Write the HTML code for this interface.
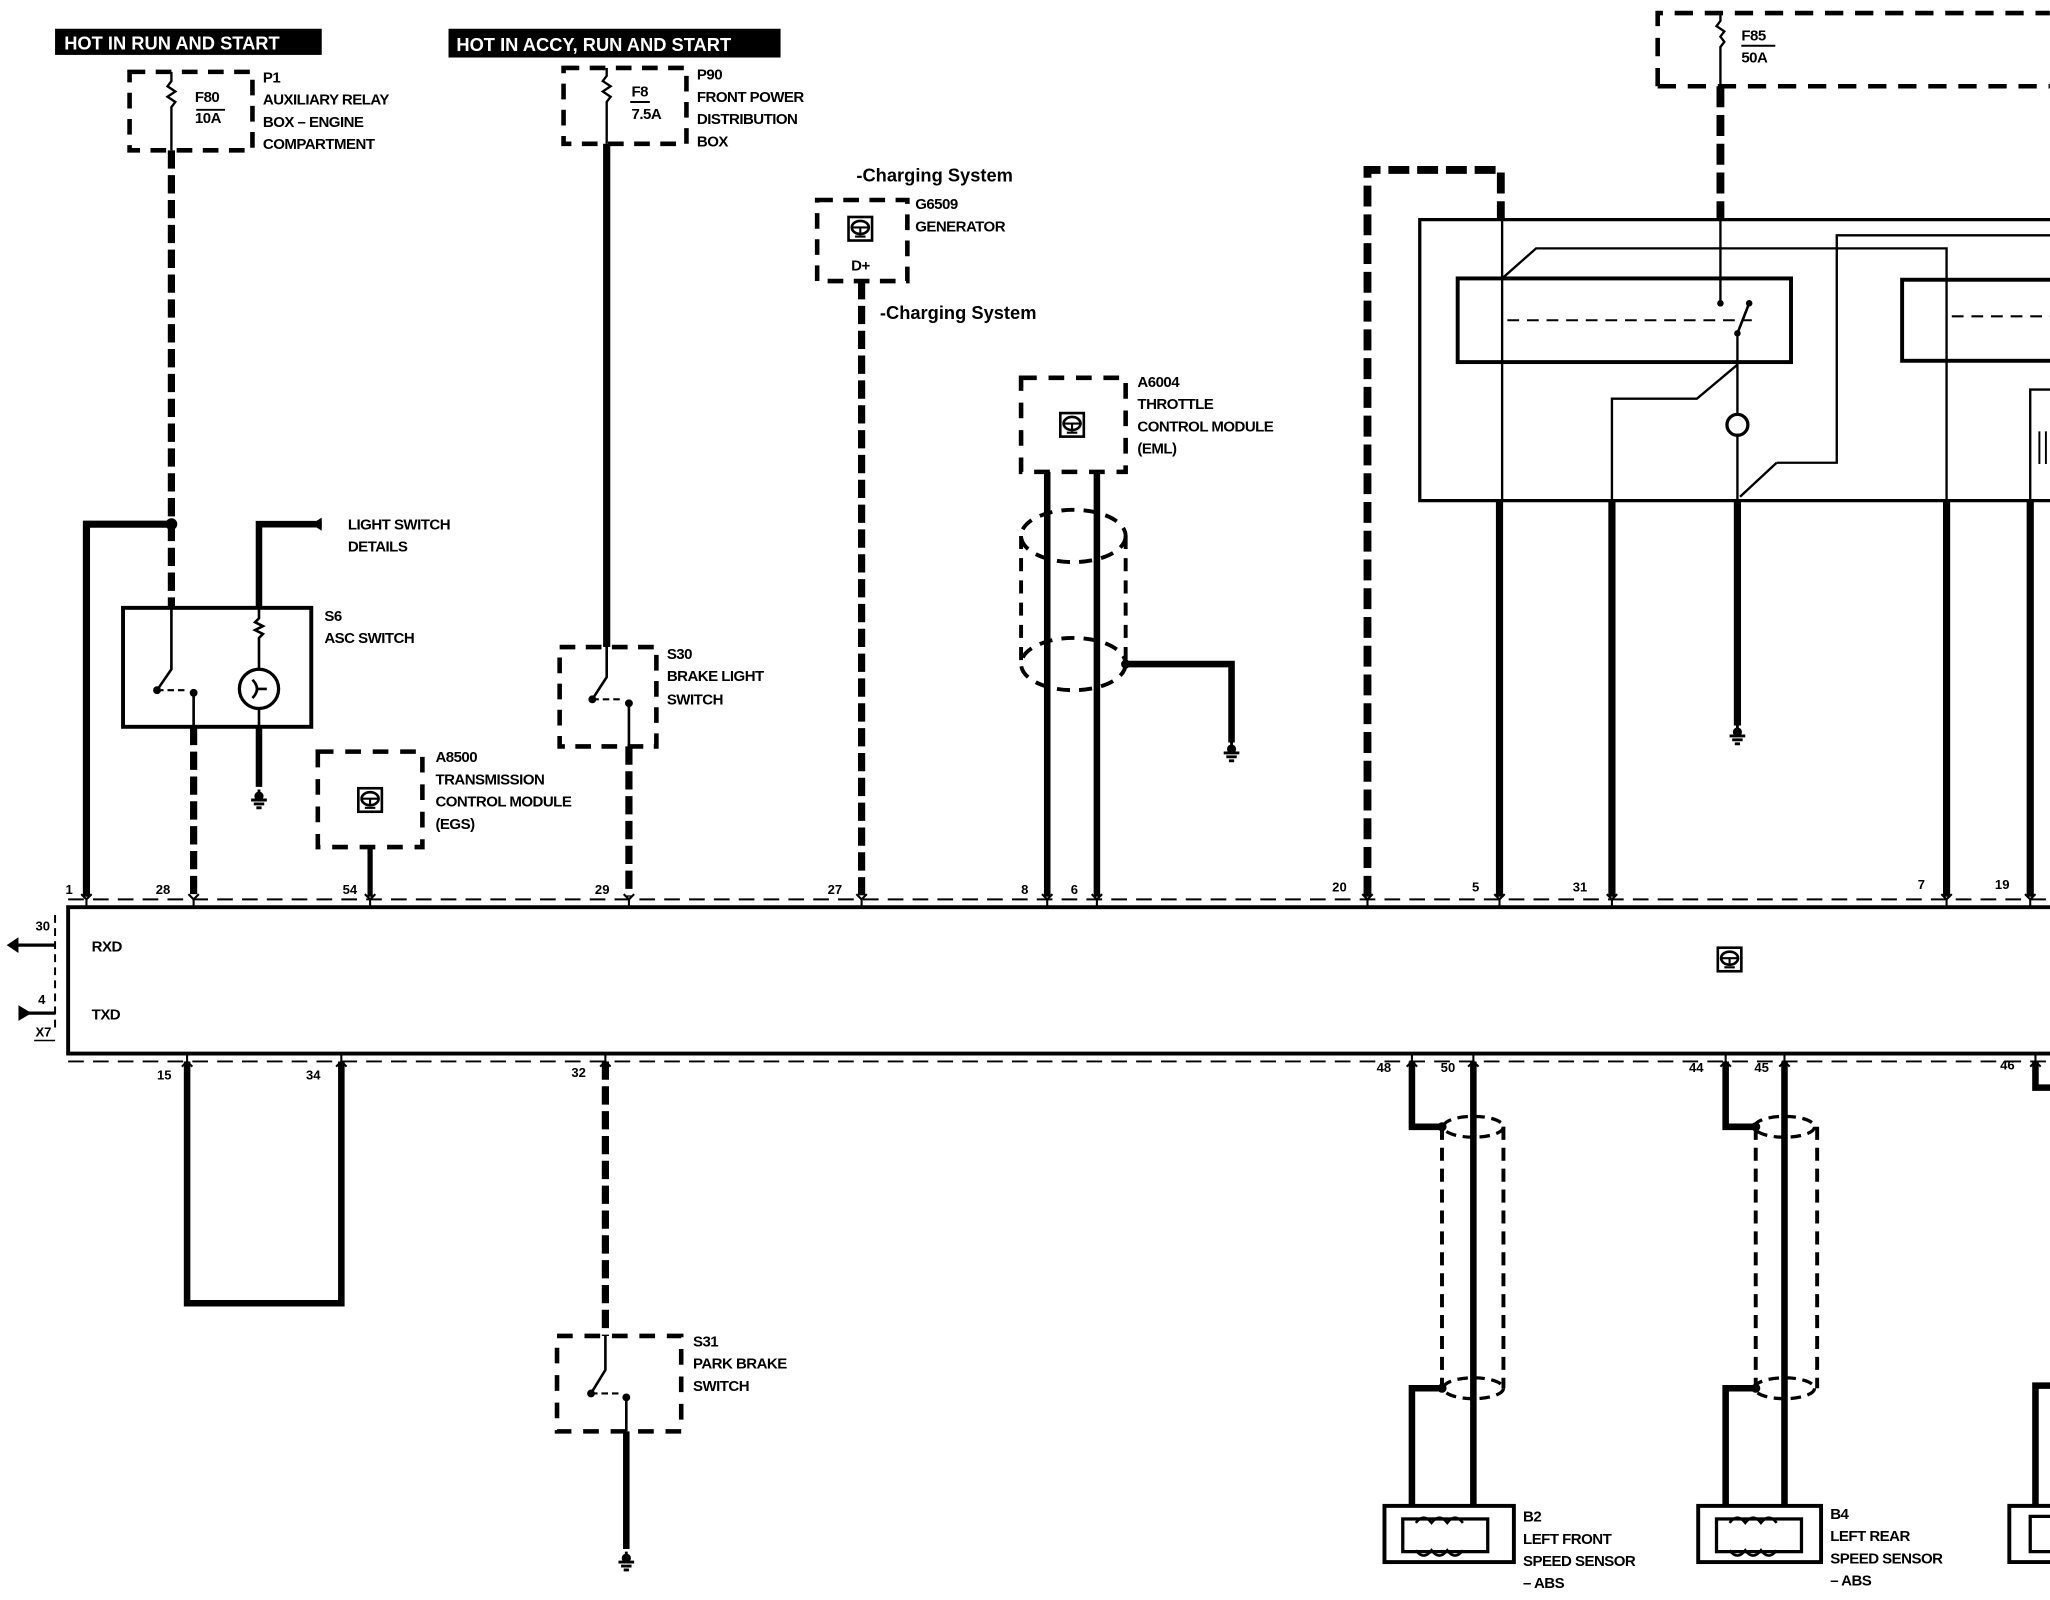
<!DOCTYPE html>
<html><head><meta charset="utf-8"><style>
html,body{margin:0;padding:0;background:#fff;}
svg{display:block;}
text{font-family:"Liberation Sans",sans-serif;font-weight:bold;fill:#000;}
.s{font-size:11.5px;letter-spacing:-0.4px;}
</style></head><body>
<svg width="2050" height="1600" viewBox="0 0 1568 1224" xmlns="http://www.w3.org/2000/svg">
<defs>
<g id="ic"><rect x="-9" y="-9" width="18" height="18" fill="#fff" stroke="#000" stroke-width="2"/><ellipse cx="0" cy="-1" rx="6.5" ry="5" fill="none" stroke="#000" stroke-width="2"/><path d="M-6,-1 H6 M0,-1 V5 M-4,6 H4" stroke="#000" stroke-width="1.6"/></g>
<g id="gnd"><path d="M0,-8 V0 M-6,0 H6 M-4,3 H4 M-2,6 H2" stroke="#000" stroke-width="2.2" fill="none"/><circle cx="0" cy="-3" r="3.5"/></g>
<g id="pin"><path d="M-4,-4 L0,0 L4,-4 M0,0 V6" stroke="#000" stroke-width="1.6" fill="none"/></g>
<g id="pinb"><path d="M-4,4 L0,0 L4,4 M0,0 V-6" stroke="#000" stroke-width="1.6" fill="none"/></g>
</defs>
<rect width="1568" height="1224" fill="#fff"/>
<g fill="none" stroke="#000">
<!-- headers -->
</g>
<rect x="42" y="22" width="204" height="20" fill="#000"/>
<text x="49" y="38" fill="#fff" style="fill:#fff;font-size:14px">HOT IN RUN AND START</text>
<rect x="343" y="22" width="254" height="22" fill="#000"/>
<text x="349" y="39" style="fill:#fff;font-size:14px">HOT IN ACCY, RUN AND START</text>

<g fill="none" stroke="#000">
<!-- P1 fuse box -->
<rect x="99" y="55" width="94" height="60" stroke-width="3.5" stroke-dasharray="12 8"/>
<path d="M131,55 V62 l-3,4 l6,4 l-6,4 l6,4 l-3,4 V115" stroke-width="1.8"/>
<path d="M150,84 H172" stroke-width="1.5"/>
<!-- wire P1 -->
<path d="M131,115 V465" stroke-width="5.5" stroke-dasharray="14 5"/>
<path d="M131,401 H66 V686" stroke-width="5.5"/>
<!-- S6 -->
<rect x="94" y="465" width="144" height="91" stroke-width="3"/>
<path d="M131,465 V512 L120,528 M148,530 V556" stroke-width="2"/>
<path d="M120,528 H143" stroke-width="1.6" stroke-dasharray="5 3"/>
<path d="M246,401 H198 V465" stroke-width="5"/>
<path d="M198,465 V473 l-3,3 l6,3 l-6,3 l6,3 l-3,3 V512 M198,542 V556" stroke-width="2"/>
<circle cx="198" cy="527" r="15" stroke-width="2.5"/>
<path d="M193,520 Q200,527 193,534 M196,527 H204" stroke-width="2"/>
<path d="M198,556 V602" stroke-width="5"/>
<path d="M148,556 V686" stroke-width="5.5" stroke-dasharray="14 5"/>
<!-- A8500 -->
<rect x="243" y="575" width="80" height="73" stroke-width="3.5" stroke-dasharray="12 9"/>
<path d="M283,648 V686" stroke-width="4"/>
<!-- F8 box -->
<rect x="431" y="52" width="94" height="58" stroke-width="3.5" stroke-dasharray="12 8"/>
<path d="M464,52 V58 l-3,4 l6,4 l-6,4 l6,4 l-3,4 V110" stroke-width="1.8"/>
<path d="M482,78 H497" stroke-width="1.5"/>
<path d="M464,110 V495" stroke-width="5.5"/>
<!-- S30 -->
<rect x="428" y="495" width="74" height="76" stroke-width="3.5" stroke-dasharray="12 8"/>
<path d="M464,495 V518 L453,535 M481,538 V571" stroke-width="2"/>
<path d="M453,535 H475" stroke-width="1.6" stroke-dasharray="5 3"/>
<path d="M481,571 V686" stroke-width="5.5" stroke-dasharray="14 5"/>
<!-- G6509 -->
<rect x="625" y="153" width="69" height="62" stroke-width="3.5" stroke-dasharray="12 8"/>
<path d="M659,215 V686" stroke-width="5.5" stroke-dasharray="14 5"/>
<!-- A6004 -->
<rect x="781" y="289" width="80" height="72" stroke-width="3.5" stroke-dasharray="12 9"/>
<path d="M801,361 V686 M839,361 V686" stroke-width="5"/>
<ellipse cx="821" cy="410" rx="40" ry="20" stroke-width="3" stroke-dasharray="10 7"/>
<ellipse cx="821" cy="508" rx="40" ry="20" stroke-width="3" stroke-dasharray="10 7"/>
<path d="M781,410 V508 M861,410 V508" stroke-width="3" stroke-dasharray="10 7"/>
<path d="M861,508 H942 V568" stroke-width="5"/>
<!-- pin20 dashed -->
<path d="M1046,686 V130 H1148 V168" stroke-width="6" stroke-dasharray="16 6"/>
<!-- F85 -->
<path d="M1268,66 V10 H1568 M1268,66 H1568" stroke-width="3.5" stroke-dasharray="14 9"/>
<path d="M1316,10 V16 l-3,4 l6,4 l-3,4 l3,4 l-3,4 V66" stroke-width="1.8"/>
<path d="M1332,35 H1358" stroke-width="1.5"/>
<path d="M1316,66 V168" stroke-width="6" stroke-dasharray="16 6"/>
<!-- big box -->
<path d="M1570,168 H1086 V383 H1570" stroke-width="2.5"/>
<rect x="1115" y="213" width="255" height="64" stroke-width="3"/>
<path d="M1149,168 V383 M1149,213 L1175,190 H1489 V383 M1405,383 M1359,354 H1405 V180 H1570 M1359,354 L1331,380 M1233,383 V305 H1298 L1329,279" stroke-width="1.8"/>
<path d="M1153,245 H1340" stroke-width="1.6" stroke-dasharray="9 6"/>
<path d="M1316,168 V232" stroke-width="1.8"/>
<path d="M1329,255 L1338,232" stroke-width="2"/>
<path d="M1329,255 V316 M1329,333 V383" stroke-width="1.8"/>
<circle cx="1329" cy="325" r="8" stroke-width="2.5"/>
<rect x="1455" y="214" width="120" height="62" stroke-width="3"/>
<path d="M1493,242 H1570" stroke-width="1.6" stroke-dasharray="9 6"/>
<path d="M1570,298 H1553 V383" stroke-width="1.8"/>
<path d="M1560,330 V355 M1565,330 V355" stroke-width="1.5"/>
<path d="M1147,383 V686 M1233,383 V686 M1329,383 V555 M1489,383 V686 M1553,383 V686" stroke-width="5.5"/>
<!-- module -->
<path d="M1570,694 H52 V806 H1570" stroke-width="3"/>
<path d="M52,688 H1570 M52,812 H1570" stroke-width="1.5" stroke-dasharray="12 7"/>
<path d="M42,700 V790" stroke-width="1.5" stroke-dasharray="6 4"/>
<path d="M42,723 H14 M42,775 H16" stroke-width="2.5"/>
<!-- bottom -->
<path d="M143,812 V997 H261 V812" stroke-width="5"/>
<path d="M463,812 V1022" stroke-width="5.5" stroke-dasharray="14 5"/>
<rect x="426" y="1022" width="95" height="73" stroke-width="3.5" stroke-dasharray="12 9"/>
<path d="M463,1022 V1048 L452,1066 M479,1069 V1095" stroke-width="2"/>
<path d="M452,1066 H473" stroke-width="1.6" stroke-dasharray="5 3"/>
<path d="M479,1095 V1185" stroke-width="5"/>
<!-- B2 -->
<path d="M1127,812 V1152 M1080,812 V862 H1103 M1103,1062 H1080 V1152" stroke-width="5"/>
<path d="M1103,862 V1062 M1150,862 V1062" stroke-width="3" stroke-dasharray="10 6"/>
<ellipse cx="1127" cy="862" rx="23" ry="8" stroke-width="2.5" stroke-dasharray="8 5"/>
<ellipse cx="1127" cy="1062" rx="23" ry="8" stroke-width="2.5" stroke-dasharray="8 5"/>
<rect x="1059" y="1152" width="99" height="43" stroke-width="3"/>
<rect x="1073" y="1162" width="65" height="25" stroke-width="2.5"/>
<path d="M1083,1165 q6,-8 12,0 q6,-8 12,0 q6,-8 12,0 M1083,1186 q6,8 12,0 q6,8 12,0 q6,8 12,0" stroke-width="2"/>
<!-- B4 -->
<path d="M1365,812 V1152 M1320,812 V862 H1343 M1343,1062 H1320 V1152" stroke-width="5"/>
<path d="M1343,862 V1062 M1390,862 V1062" stroke-width="3" stroke-dasharray="10 6"/>
<ellipse cx="1365" cy="862" rx="23" ry="8" stroke-width="2.5" stroke-dasharray="8 5"/>
<ellipse cx="1365" cy="1062" rx="23" ry="8" stroke-width="2.5" stroke-dasharray="8 5"/>
<rect x="1299" y="1152" width="94" height="43" stroke-width="3"/>
<rect x="1313" y="1162" width="65" height="25" stroke-width="2.5"/>
<path d="M1323,1165 q6,-8 12,0 q6,-8 12,0 q6,-8 12,0 M1323,1186 q6,8 12,0 q6,8 12,0 q6,8 12,0" stroke-width="2"/>
<!-- right partial -->
<path d="M1557,812 V832 H1570 M1570,1060 H1557 V1152" stroke-width="5"/>
<path d="M1570,1152 H1537 V1195 H1570" stroke-width="3"/>
<path d="M1570,1160 H1553 V1187 H1570" stroke-width="2.5"/>
</g>
<!-- dots & arrows -->
<circle cx="131" cy="401" r="4.5"/>
<path d="M246,396 L238,401 L246,406 Z"/>
<polygon points="5,723 14,717 14,729"/>
<polygon points="24,775 14,769 14,781"/>
<circle cx="861" cy="508" r="3.5"/>
<circle cx="1103" cy="862" r="3.5"/><circle cx="1103" cy="1062" r="3.5"/>
<circle cx="1343" cy="862" r="3.5"/><circle cx="1343" cy="1062" r="3.5"/>
<circle cx="120" cy="528" r="3"/><circle cx="148" cy="530" r="3"/>
<circle cx="453" cy="535" r="3"/><circle cx="481" cy="538" r="3"/>
<circle cx="452" cy="1066" r="3"/><circle cx="479" cy="1069" r="3"/>
<circle cx="1316" cy="232" r="2.5"/><circle cx="1338" cy="232" r="2.5"/><circle cx="1329" cy="255" r="2.5"/>
<!-- pins top -->
<g>
<use href="#pin" x="66" y="688"/><use href="#pin" x="148" y="688"/><use href="#pin" x="283" y="688"/><use href="#pin" x="481" y="688"/><use href="#pin" x="659" y="688"/><use href="#pin" x="801" y="688"/><use href="#pin" x="839" y="688"/><use href="#pin" x="1046" y="688"/><use href="#pin" x="1147" y="688"/><use href="#pin" x="1233" y="688"/><use href="#pin" x="1489" y="688"/><use href="#pin" x="1553" y="688"/>
<use href="#pinb" x="143" y="812"/><use href="#pinb" x="261" y="812"/><use href="#pinb" x="463" y="812"/><use href="#pinb" x="1080" y="812"/><use href="#pinb" x="1127" y="812"/><use href="#pinb" x="1320" y="812"/><use href="#pinb" x="1365" y="812"/><use href="#pinb" x="1557" y="812"/>
</g>
<!-- grounds -->
<use href="#gnd" x="198" y="612"/><use href="#gnd" x="942" y="576"/><use href="#gnd" x="1329" y="563"/><use href="#gnd" x="479" y="1195"/>
<!-- icons -->
<use href="#ic" x="283" y="612"/><use href="#ic" x="658" y="175"/><use href="#ic" x="820" y="325"/><use href="#ic" x="1323" y="734"/>
<!-- texts -->
<g class="s">
<text x="149" y="78">F80</text><text x="149" y="94">10A</text>
<text x="201" y="63">P1</text><text x="201" y="80">AUXILIARY RELAY</text><text x="201" y="97">BOX – ENGINE</text><text x="201" y="114">COMPARTMENT</text>
<text x="483" y="74">F8</text><text x="483" y="91">7.5A</text>
<text x="533" y="61">P90</text><text x="533" y="78">FRONT POWER</text><text x="533" y="95">DISTRIBUTION</text><text x="533" y="112">BOX</text>
<text x="1332" y="31">F85</text><text x="1332" y="48">50A</text>
<text x="266" y="405">LIGHT SWITCH</text><text x="266" y="422">DETAILS</text>
<text x="248" y="475">S6</text><text x="248" y="492">ASC SWITCH</text>
<text x="333" y="583">A8500</text><text x="333" y="600">TRANSMISSION</text><text x="333" y="617">CONTROL MODULE</text><text x="333" y="634">(EGS)</text>
<text x="510" y="504">S30</text><text x="510" y="521">BRAKE LIGHT</text><text x="510" y="539">SWITCH</text>
<text x="700" y="160">G6509</text><text x="700" y="177">GENERATOR</text>
<text x="651" y="207">D+</text>
<text x="870" y="296">A6004</text><text x="870" y="313">THROTTLE</text><text x="870" y="330">CONTROL MODULE</text><text x="870" y="347">(EML)</text>
<text x="530" y="1030">S31</text><text x="530" y="1047">PARK BRAKE</text><text x="530" y="1064">SWITCH</text>
<text x="1165" y="1164">B2</text><text x="1165" y="1181">LEFT FRONT</text><text x="1165" y="1198">SPEED SENSOR</text><text x="1165" y="1215">– ABS</text>
<text x="1400" y="1162">B4</text><text x="1400" y="1179">LEFT REAR</text><text x="1400" y="1196">SPEED SENSOR</text><text x="1400" y="1213">– ABS</text>
<text x="70" y="728">RXD</text><text x="70" y="780">TXD</text>
</g>
<text x="655" y="139" style="font-size:14px">-Charging System</text>
<text x="673" y="244" style="font-size:14px">-Charging System</text>
<g style="font-size:10px">
<text x="50" y="684">1</text><text x="119" y="684">28</text><text x="262" y="684">54</text><text x="455" y="684">29</text><text x="633" y="684">27</text><text x="781" y="684">8</text><text x="819" y="684">6</text><text x="1019" y="682">20</text><text x="1126" y="682">5</text><text x="1203" y="682">31</text><text x="1467" y="680">7</text><text x="1526" y="680">19</text>
<text x="120" y="826">15</text><text x="234" y="826">34</text><text x="437" y="824">32</text><text x="1053" y="820">48</text><text x="1102" y="820">50</text><text x="1292" y="820">44</text><text x="1342" y="820">45</text><text x="1530" y="818">46</text>
<text x="27" y="712">30</text><text x="29" y="768">4</text><text x="27" y="793">X7</text>
</g>
<path d="M26,796 H42" stroke="#000" stroke-width="1.2"/>
</svg>
</body></html>
